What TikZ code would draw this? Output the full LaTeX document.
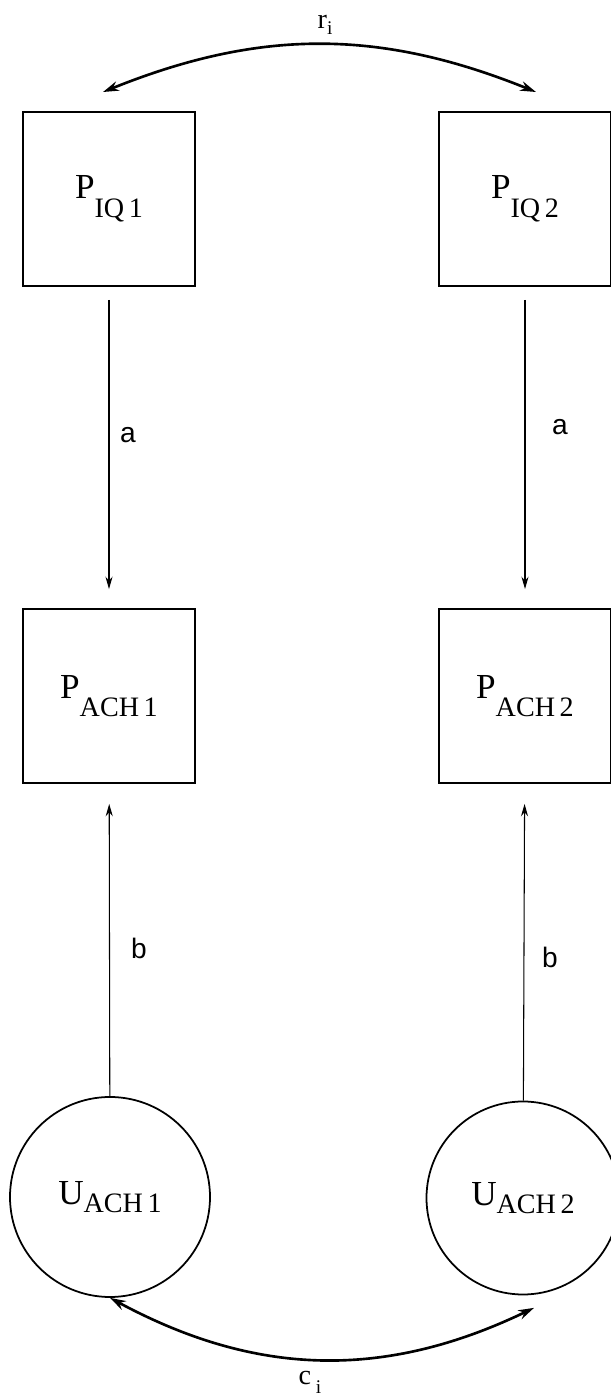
\documentclass[tikz,border=0pt]{standalone}
\usepackage{fontspec}
\setmainfont{Liberation Serif}
\newfontfamily\coeffont{Liberation Sans}
\usetikzlibrary{arrows.meta}

\newcommand{\varname}[3]{%
{\fontsize{20}{24}\selectfont #1}\raisebox{-#3}{\fontsize{16}{19}\selectfont #2}}

\tikzset{
  box/.style={draw, line width=1.1pt, minimum width=3.44cm, minimum height=3.48cm, inner sep=0},
  latent/.style={draw, circle, line width=1pt, inner sep=0},
  causal/.style={line width=0.6pt, -{Stealth[length=7pt,width=4pt]}},
  corr/.style={line width=1.5pt, {Stealth[length=9pt,width=5.5pt]}-{Stealth[length=9pt,width=5.5pt]}},
  coef/.style={font=\coeffont\fontsize{16}{19}\selectfont, inner sep=0}
}

\begin{document}
\begin{tikzpicture}
\useasboundingbox (0,0) rectangle (12.22,27.92);

\node[box] (iq1) at (2.18,23.94) {\varname{P}{IQ\,1}{11pt}};
\node[box] (iq2) at (10.5,23.94) {\varname{P}{IQ\,2}{11pt}};
\node[box] (ach1) at (2.18,14.0) {\varname{P}{ACH\,1}{10pt}};
\node[box] (ach2) at (10.5,14.0) {\varname{P}{ACH\,2}{10pt}};
\node[latent, minimum size=4cm] (u1) at (2.2,3.98) {\varname{U}{ACH\,1}{4.5pt}};
\node[latent, minimum size=3.86cm] (u2) at (10.46,3.96) {\varname{U}{ACH\,2}{4.5pt}};

\draw[causal, shorten <=0.26cm, shorten >=0.38cm] (iq1) -- (ach1);
\draw[causal, shorten <=0.26cm, shorten >=0.38cm] (iq2) -- (ach2);
\draw[causal, shorten >=0.4cm] (u1) -- (ach1);
\draw[causal, shorten >=0.4cm] (u2) -- (ach2);

\node[coef] (a1) at (2.56,19.22) {a};
\node[coef] (a2) at (11.2,19.38) {a};
\node[coef] (b1) at (2.78,8.96) {b};
\node[coef] (b2) at (11.0,8.78) {b};

\coordinate (r1) at ([shift={(-0.12,0.38)}]iq1.north);
\coordinate (r2) at ([shift={(0.22,0.38)}]iq2.north);
\draw[corr] (r1) to[bend left=22] (r2);
\node[inner sep=0] (ri) at (6.5,27.42) {\fontsize{16}{19}\selectfont r\raisebox{-3pt}{\fontsize{11}{13}\selectfont i}};

\coordinate (c2) at ([shift={(0.22,-0.25)}]u2.south);
\draw[corr] (u1.south) to[bend right=27] (c2);
\node[inner sep=0] (ci) at (6.2,0.28) {\fontsize{16}{19}\selectfont c\,\raisebox{-5pt}{\fontsize{11}{13}\selectfont i}};

\end{tikzpicture}
\end{document}
